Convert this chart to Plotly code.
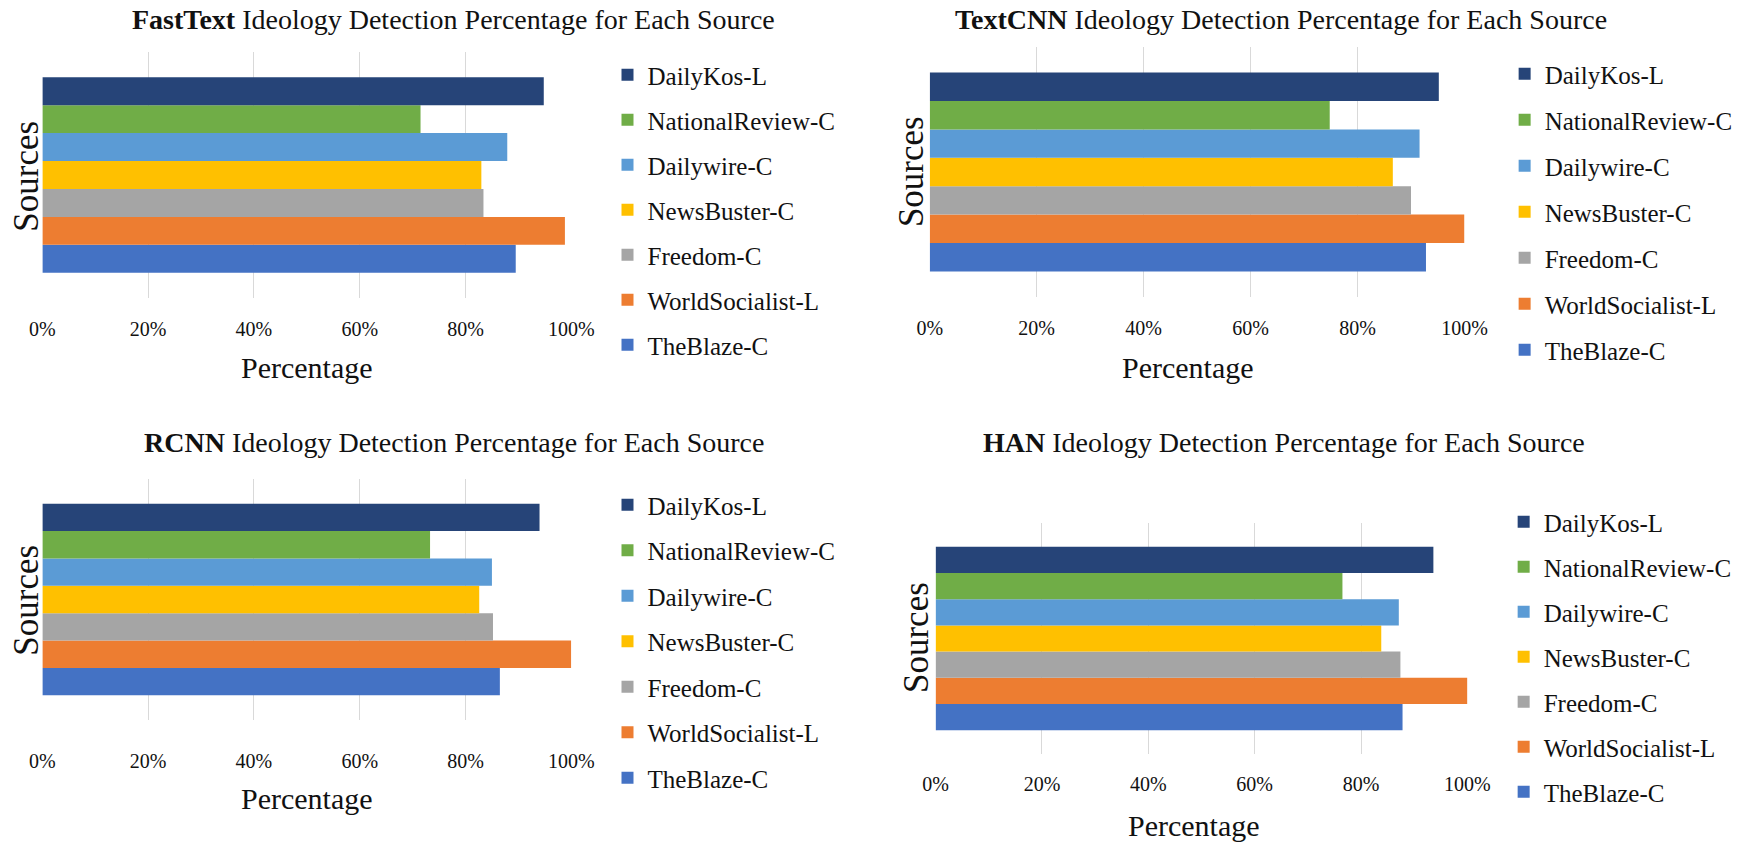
import plotly.graph_objects as go

W, H = 1748, 845

sources = ["DailyKos-L", "NationalReview-C", "Dailywire-C", "NewsBuster-C",
           "Freedom-C", "WorldSocialist-L", "TheBlaze-C"]
colors = ["#264478", "#70AD47", "#5B9BD5", "#FFC000", "#A5A5A5", "#ED7D31", "#4472C4"]

models = ["FastText", "TextCNN", "RCNN", "HAN"]
fasttext = [0.948, 0.715, 0.879, 0.830, 0.834, 0.988, 0.895]
textcnn = [0.952, 0.748, 0.916, 0.866, 0.900, 1.000, 0.928]
rcnn = [0.940, 0.733, 0.850, 0.826, 0.852, 1.000, 0.865]
han = [0.936, 0.765, 0.871, 0.838, 0.874, 1.000, 0.878]
values = [fasttext, textcnn, rcnn, han]

tick_vals = [0, 0.2, 0.4, 0.6, 0.8, 1.0]
tick_text = ["0%", "20%", "40%", "60%", "80%", "100%"]

# layout (pixels)
panels = [
    dict(x0=30, x1=570, yt=52, yb=298, tx=450, ty=19, lx=607, ly=52, gap=9.5,
         st=17, px=300, py=367, sx=13, sy=176),
    dict(x0=936, x1=1482, yt=47, yb=297, tx=1295, ty=19, lx=1523, ly=51, gap=10.5,
         st=17, px=1200, py=367, sx=917, sy=172),
    dict(x0=30, x1=570, yt=479, yb=720, tx=450, ty=442, lx=607, ly=482, gap=10,
         st=27, px=300, py=798, sx=13, sy=600),
    dict(x0=942, x1=1485, yt=523, yb=754, tx=1298, ty=442, lx=1522, ly=499, gap=9.5,
         st=16, px=1206, py=825, sx=922, sy=638),
]

FONT = "Liberation Serif"
TXT = "#111111"

fig = go.Figure()
annotations = []
layout = dict(width=W, height=H, margin=dict(l=0, r=0, t=0, b=0),
              paper_bgcolor="white", plot_bgcolor="white",
              barmode="group", bargap=0.205, bargroupgap=0,
              font=dict(family=FONT, color=TXT))

for i, (model, vals, p) in enumerate(zip(models, values, panels)):
    sfx = "" if i == 0 else str(i + 1)
    leg = "legend" + sfx
    for k in reversed(range(len(sources))):
        fig.add_trace(go.Bar(
            x=[vals[k]], y=["Sources"], orientation="h",
            name=sources[k], marker=dict(color=colors[k], line=dict(width=0)),
            xaxis="x" + sfx, yaxis="y" + sfx, legend=leg,
            legendgroup=f"{model}-{k}", legendrank=k + 1,
            hoverinfo="x+name"))
    layout["xaxis" + sfx] = dict(
        domain=[p["x0"] / W, p["x1"] / W], anchor="y" + sfx,
        range=[0, 1.0], tickvals=tick_vals, ticktext=tick_text,
        showgrid=True, gridcolor="#d9d9d9", gridwidth=1,
        zeroline=False, showline=False, ticks="",
        ticklabelstandoff=p["st"],
        tickfont=dict(family=FONT, size=20, color=TXT))
    layout["yaxis" + sfx] = dict(
        domain=[1 - p["yb"] / H, 1 - p["yt"] / H], anchor="x" + sfx,
        showticklabels=False, showgrid=False, zeroline=False, showline=False,
        type="category")
    layout[leg] = dict(
        x=p["lx"] / W, y=1 - p["ly"] / H, xanchor="left", yanchor="top",
        traceorder="grouped", tracegroupgap=p["gap"],
        font=dict(family=FONT, size=25, color=TXT),
        bgcolor="rgba(0,0,0,0)", itemclick=False, itemdoubleclick=False)
    annotations.append(dict(
        x=p["tx"] / W, y=1 - p["ty"] / H, xref="paper", yref="paper",
        text=f"<b>{model}</b> Ideology Detection Percentage for Each Source",
        showarrow=False, xanchor="center", yanchor="middle",
        font=dict(family=FONT, size=28, color=TXT)))
    annotations.append(dict(
        x=p["px"] / W, y=1 - p["py"] / H, xref="paper", yref="paper",
        text="Percentage", showarrow=False, xanchor="center", yanchor="middle",
        font=dict(family=FONT, size=30, color=TXT)))
    annotations.append(dict(
        x=p["sx"] / W, y=1 - p["sy"] / H, xref="paper", yref="paper",
        text="Sources", textangle=-90, showarrow=False,
        xanchor="center", yanchor="middle",
        font=dict(family=FONT, size=35, color=TXT)))

layout["annotations"] = annotations
layout["showlegend"] = True
fig.update_layout(**layout)
fig.write_html(
    "out.html",
    config={"displayModeBar": False},
    post_script="document.body.style.margin='0px';document.body.style.overflow='hidden';")
